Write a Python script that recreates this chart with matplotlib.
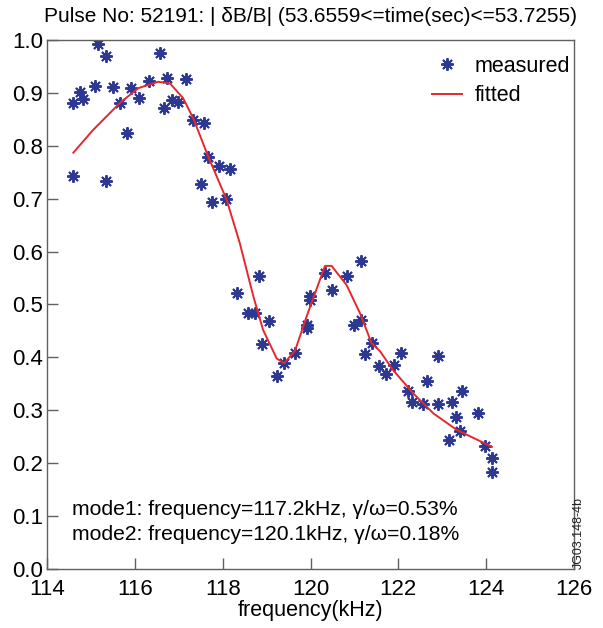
import numpy as np
import matplotlib
matplotlib.use("Agg")
import matplotlib.pyplot as plt
import matplotlib.ticker as mticker

plt.rcParams["font.family"] = ["Liberation Sans", "DejaVu Sans"]

# measured |dB/B| spectrum
freq_meas = [114.585, 114.585, 114.75, 114.83, 115.09, 115.17, 115.34, 115.34,
             115.50, 115.66, 115.83, 115.91, 116.09, 116.32, 116.57, 116.66,
             116.74, 116.84, 116.99, 117.16, 117.33, 117.50, 117.57, 117.66,
             117.75, 117.92, 118.08, 118.16, 118.33, 118.58, 118.74, 118.83,
             118.90, 119.06, 119.24, 119.40, 119.65, 119.91, 119.91, 119.99,
             119.99, 120.32, 120.48, 120.82, 121.15, 120.98, 121.15, 121.40,
             121.24, 121.55, 121.73, 121.90, 122.06, 122.90, 122.65, 122.23,
             122.32, 122.57, 122.90, 123.23, 123.46, 123.31, 123.81, 123.15,
             123.40, 123.97, 124.14, 124.14]
amp_meas = [0.880, 0.743, 0.902, 0.888, 0.913, 0.992, 0.970, 0.733,
            0.912, 0.881, 0.824, 0.909, 0.890, 0.922, 0.976, 0.872,
            0.928, 0.887, 0.882, 0.926, 0.849, 0.727, 0.843, 0.778,
            0.694, 0.761, 0.699, 0.756, 0.521, 0.483, 0.483, 0.554,
            0.425, 0.469, 0.364, 0.390, 0.409, 0.461, 0.456, 0.516,
            0.508, 0.560, 0.527, 0.553, 0.583, 0.462, 0.471, 0.427,
            0.406, 0.383, 0.368, 0.386, 0.408, 0.403, 0.356, 0.337,
            0.315, 0.312, 0.312, 0.315, 0.336, 0.288, 0.294, 0.244,
            0.261, 0.233, 0.209, 0.183]

# two-mode fit
freq_fit = [114.60, 115.05, 115.66, 116.08, 116.53, 116.80, 117.10, 117.33,
            117.67, 118.09, 118.39, 118.70, 118.92, 119.23, 119.40, 119.65,
            119.91, 120.33, 120.48, 120.82, 121.13, 121.39, 121.58, 121.88,
            122.34, 122.80, 123.33, 124.13]
amp_fit = [0.787, 0.830, 0.881, 0.909, 0.921, 0.918, 0.890, 0.852,
           0.780, 0.698, 0.616, 0.515, 0.452, 0.398, 0.389, 0.413,
           0.477, 0.573, 0.573, 0.537, 0.483, 0.427, 0.412, 0.376,
           0.332, 0.294, 0.263, 0.231]

mode_lines = ["mode1: frequency=117.2kHz, γ/ω=0.53%",
              "mode2: frequency=120.1kHz, γ/ω=0.18%"]

fig = plt.figure(figsize=(6.03, 6.28), dpi=100)
ax = fig.add_axes([47/603, 1-569/628, 527/603, 529/628])

ax.plot(freq_meas, amp_meas, linestyle="none", marker=(8, 2, 0), markersize=9,
        markeredgewidth=1.4, color="#2d3890", label="measured")
ax.plot(freq_fit, amp_fit, color="#e8272d", linewidth=1.4, label="fitted")

ax.set_xlim(114, 126)
ax.set_ylim(0.0, 1.0)
ax.xaxis.set_major_locator(mticker.MultipleLocator(2))
ax.yaxis.set_major_locator(mticker.MultipleLocator(0.1))
ax.yaxis.set_major_formatter(mticker.FormatStrFormatter('%.1f'))
ax.tick_params(direction="in", length=8, width=1, color="#606060",
               labelsize=16, top=False, right=False)
ax.tick_params(axis="x", pad=7)
ax.tick_params(axis="y", pad=3)
for s in ax.spines.values():
    s.set_color("#606060")
    s.set_linewidth(1)

ax.set_xlabel("frequency(kHz)", fontsize=15.5, labelpad=0)
ax.set_title("Pulse No: 52191: | δB/B| (53.6559<=time(sec)<=53.7255)",
             fontsize=15, pad=13)

ax.text(114.56, 0.112, mode_lines[0], fontsize=15.2, va="center")
ax.text(114.56, 0.066, mode_lines[1], fontsize=15.2, va="center")

ax.legend(loc="upper right", bbox_to_anchor=(0.992, 0.97), frameon=False,
          fontsize=15.5, numpoints=1, handlelength=1.4, handletextpad=0.55,
          labelspacing=0.4, borderpad=0, borderaxespad=0)

fig.text(579/603, 1-533/628, "JG03.148-4b", rotation=90, fontsize=9,
         ha="center", va="center", color="#222222")

fig.savefig("out.png", dpi=100)
